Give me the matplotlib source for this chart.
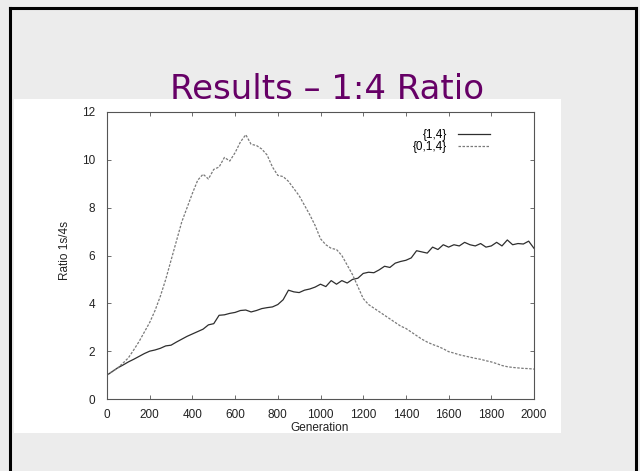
import numpy as np
import matplotlib
matplotlib.use("Agg")
import matplotlib.pyplot as plt
from matplotlib.lines import Line2D
from matplotlib.patches import Rectangle


TITLE = "Results \u2013 1:4 Ratio"
X_LABEL = "Generation"
Y_LABEL = "Ratio 1s/4s"
SERIES_NAMES = ["{1,4}", "{0,1,4}"]

GENERATIONS = list(range(0, 2001, 25))

RATIO_14 = [
    1.00, 1.15, 1.30, 1.42, 1.55, 1.66, 1.78, 1.90, 2.00, 2.05,
    2.12, 2.22, 2.25, 2.38, 2.50, 2.62, 2.72, 2.82, 2.92, 3.10,
    3.15, 3.50, 3.52, 3.58, 3.62, 3.70, 3.72, 3.64, 3.70, 3.78,
    3.82, 3.85, 3.95, 4.15, 4.55, 4.48, 4.45, 4.55, 4.60, 4.68,
    4.80, 4.70, 4.95, 4.80, 4.95, 4.85, 5.00, 5.05, 5.25, 5.30,
    5.28, 5.40, 5.55, 5.50, 5.68, 5.75, 5.80, 5.90, 6.20, 6.15,
    6.10, 6.35, 6.25, 6.45, 6.35, 6.45, 6.40, 6.55, 6.45, 6.40,
    6.50, 6.35, 6.40, 6.55, 6.40, 6.65, 6.45, 6.50, 6.48, 6.60,
    6.30,
]

RATIO_014 = [
    1.00, 1.15, 1.30, 1.50, 1.72, 2.05, 2.40, 2.80, 3.20, 3.70,
    4.30, 5.00, 5.80, 6.60, 7.40, 8.00, 8.60, 9.15, 9.40, 9.20,
    9.60, 9.70, 10.10, 9.95, 10.30, 10.75, 11.05, 10.65, 10.60, 10.45,
    10.20, 9.70, 9.35, 9.30, 9.10, 8.80, 8.50, 8.10, 7.70, 7.25,
    6.70, 6.45, 6.30, 6.25, 6.00, 5.60, 5.20, 4.70, 4.20, 3.95,
    3.80, 3.65, 3.50, 3.35, 3.20, 3.05, 2.95, 2.80, 2.65, 2.50,
    2.38, 2.28, 2.20, 2.10, 1.98, 1.92, 1.85, 1.80, 1.75, 1.70,
    1.66, 1.60, 1.55, 1.48, 1.40, 1.35, 1.32, 1.30, 1.28, 1.27,
    1.25,
]

X_TICKS = list(range(0, 2001, 200))
Y_TICKS = list(range(0, 13, 2))

W, H = 640, 471


def fx(px):
    return px / W


def fy(py):
    return 1 - py / H


fig = plt.figure(figsize=(6.4, 4.71), dpi=100)
fig.patch.set_facecolor("#ececec")

# slide title, partly hidden behind the pasted white plot image
fig.text(fx(327), fy(99), TITLE, ha="center", va="baseline", fontsize=24.5,
         color="#660066", family="DejaVu Sans", zorder=-3)
fig.add_artist(Rectangle((fx(14), fy(433)), fx(561) - fx(14), fy(99) - fy(433),
                         transform=fig.transFigure, facecolor="white",
                         edgecolor="none", zorder=-2))

# slide border
for xs, ys in [((10, 10), (8, 471)), ((636, 636), (8, 471)), ((10, 636), (8, 8))]:
    fig.add_artist(Line2D([fx(x) for x in xs], [fy(y) for y in ys],
                          transform=fig.transFigure, color="black", linewidth=2.2))

ax = fig.add_axes([fx(107), fy(399), fx(534) - fx(107), fy(112) - fy(399)])
ax.set_facecolor("none")

ax.plot(GENERATIONS, RATIO_14, color="#2e2e2e", linewidth=0.9, label=SERIES_NAMES[0])
ax.plot(GENERATIONS, RATIO_014, color="#7a7a7a", linewidth=0.9,
        dashes=(2, 1.2), label=SERIES_NAMES[1])

ax.set_xlim(0, 2000)
ax.set_ylim(0, 12)
ax.set_xticks(X_TICKS)
ax.set_yticks(Y_TICKS)

font = "Liberation Sans"
ax.tick_params(direction="in", length=3, width=0.6, color="#555555",
               top=True, right=True, labelsize=8.5, labelcolor="#222222")
ax.tick_params(axis="y", pad=8.5)
ax.tick_params(axis="x", pad=7)
for lab in ax.get_xticklabels() + ax.get_yticklabels():
    lab.set_family(font)
for sp in ax.spines.values():
    sp.set_color("#555555")
    sp.set_linewidth(0.8)

fig.text(fx(320), fy(428), X_LABEL, ha="center", va="center", fontsize=8.5,
         family=font, color="#222222")
fig.text(fx(65), fy(250), Y_LABEL, ha="center", va="center", rotation=90,
         fontsize=8.5, family=font, color="#222222")

ax.legend(loc="upper right", bbox_to_anchor=(0.897, 0.94), frameon=False,
          markerfirst=False, fontsize=8.5, prop={"family": font, "size": 8.5},
          handlelength=2.7, handletextpad=0.9, labelspacing=0.0, borderpad=0,
          borderaxespad=0)

fig.savefig("out.png", dpi=100, facecolor=fig.get_facecolor())
